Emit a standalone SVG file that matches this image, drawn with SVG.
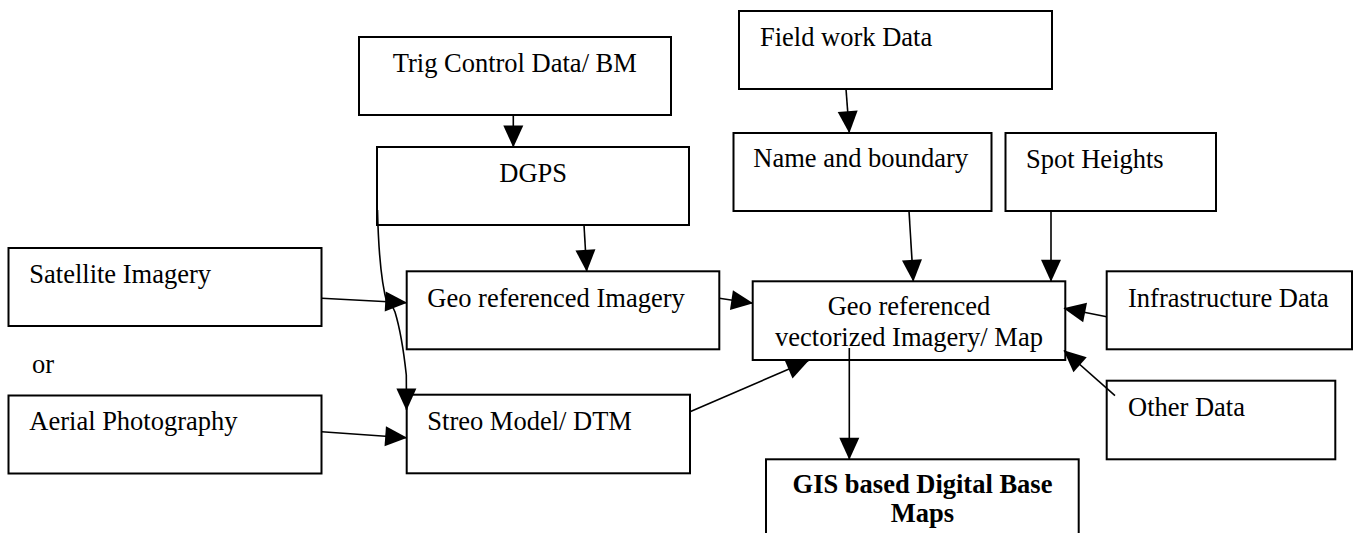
<svg xmlns="http://www.w3.org/2000/svg" width="1358" height="533" viewBox="0 0 1358 533">
<style>
rect{fill:#fff;stroke:#000;stroke-width:2}
text{font-family:"Liberation Serif","Times New Roman",serif;font-size:26.5px;fill:#000}
.b{font-weight:bold}
.c{text-anchor:middle}
#connectors path{fill:none;stroke:#000;stroke-width:1.6;marker-end:url(#ah)}
</style>
<defs>
<marker id="ah" markerUnits="userSpaceOnUse" viewBox="0 0 22 20" markerWidth="22" markerHeight="20" refX="21.5" refY="10" orient="auto" overflow="visible">
<path d="M0,0 L22,10 L0,20 z" fill="#000"/>
</marker>
</defs>
<rect width="1358" height="533" style="stroke:none"/>
<g id="trig"><rect x="359" y="37" width="312" height="78"/><text x="392.7" y="71.7">Trig Control Data/ BM</text></g>
<g id="dgps"><rect x="377" y="147" width="312" height="78"/><text x="499.3" y="181.7">DGPS</text></g>
<g id="fieldwork"><rect x="739" y="11" width="313" height="78"/><text x="760" y="46">Field work Data</text></g>
<g id="nameboundary"><rect x="733.5" y="133" width="258" height="78"/><text x="753.3" y="166.7">Name and boundary</text></g>
<g id="spotheights"><rect x="1005.5" y="133" width="210.5" height="78"/><text x="1026" y="168.3">Spot Heights</text></g>
<g id="satellite"><rect x="8.5" y="248" width="313" height="78"/><text x="29.3" y="283.3">Satellite Imagery</text></g>
<g id="or"><text x="32" y="373.3">or</text></g>
<g id="aerial"><rect x="8.5" y="395.5" width="313" height="78"/><text x="29.3" y="430">Aerial Photography</text></g>
<g id="georefimg"><rect x="406.7" y="271.3" width="312.6" height="78"/><text x="427.3" y="306.7">Geo referenced Imagery</text></g>
<g id="streo"><rect x="406.7" y="394.7" width="283.3" height="78.6"/><text x="427.3" y="430">Streo Model/ DTM</text></g>
<g id="vectorized"><rect x="752.7" y="281.3" width="312.6" height="78.7"/><text class="c" x="909" y="315">Geo referenced</text><text class="c" x="909" y="345.5">vectorized Imagery/ Map</text></g>
<g id="infrastructure"><rect x="1106.7" y="271.3" width="245.3" height="78"/><text x="1128" y="306.7">Infrastructure Data</text></g>
<g id="other"><rect x="1106.7" y="380.7" width="228.6" height="78.6"/><text x="1128" y="416">Other Data</text></g>
<g id="gis"><rect x="766" y="459.3" width="312.7" height="90"/><text class="b c" x="922.5" y="493.3">GIS based Digital Base</text><text class="b c" x="922.5" y="521.7">Maps</text></g>
<g id="connectors">
<path d="M513.3,115 L513.3,147"/>
<path d="M846,89 L849.3,132.7"/>
<path d="M584,225 L586.7,271.3"/>
<path d="M909,211 L913.3,281.3"/>
<path d="M1051,211 L1051,281.3"/>
<path d="M1106.7,316.7 L1064,308.3"/>
<path d="M1115,395.7 L1064,350.5"/>
<path d="M719.3,298.3 L752.7,303.3"/>
<path d="M690,411.7 L808.3,360.7"/>
<path d="M849.3,348 L849.3,459.3"/>
<path d="M321.7,298.3 L406.7,302.7"/>
<path d="M321.7,431.7 L406.7,437.7"/>
<path d="M377.5,210 Q379,275 387,303 Q392,304 395,312 Q402,335 406.3,375 L406.5,410"/>
</g>
</svg>
